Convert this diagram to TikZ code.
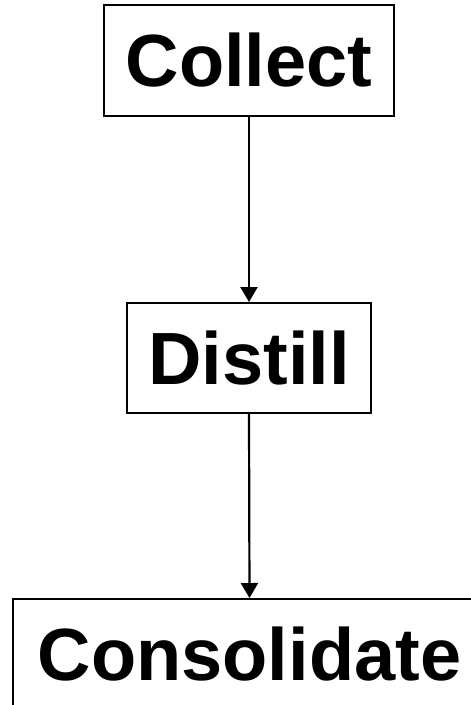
\documentclass[tikz,border=0pt]{standalone}
\usepackage{fontspec}
\setmainfont{Liberation Sans}
\usetikzlibrary{arrows.meta}
\tikzset{
  stagebox/.style={draw=black, line width=2pt, fill=white, inner sep=0pt,
    font=\fontsize{74}{80}\selectfont\bfseries},
  flowarrow/.style={line width=2.2pt, -{Triangle[width=17pt,length=15pt]}}
}
\begin{document}
\begin{tikzpicture}[x=1pt,y=-1pt]
\path[use as bounding box, clip] (0,0) rectangle (471,705);
\fill[white] (0,0) rectangle (471,705);
\node[stagebox, minimum width=290pt, minimum height=111pt] (collect) at (249,60.5) {\raisebox{-2pt}{Collect}};
\node[stagebox, minimum width=244pt, minimum height=110pt] (distill) at (249,358) {Distill};
\node[stagebox, minimum width=473pt, minimum height=111pt] (consolidate) at (249.5,654.5) {Consolidate};
\draw[flowarrow] (collect.south) -- (distill.north);
\draw[flowarrow] (distill.south) -- (consolidate.north);
\end{tikzpicture}
\end{document}
